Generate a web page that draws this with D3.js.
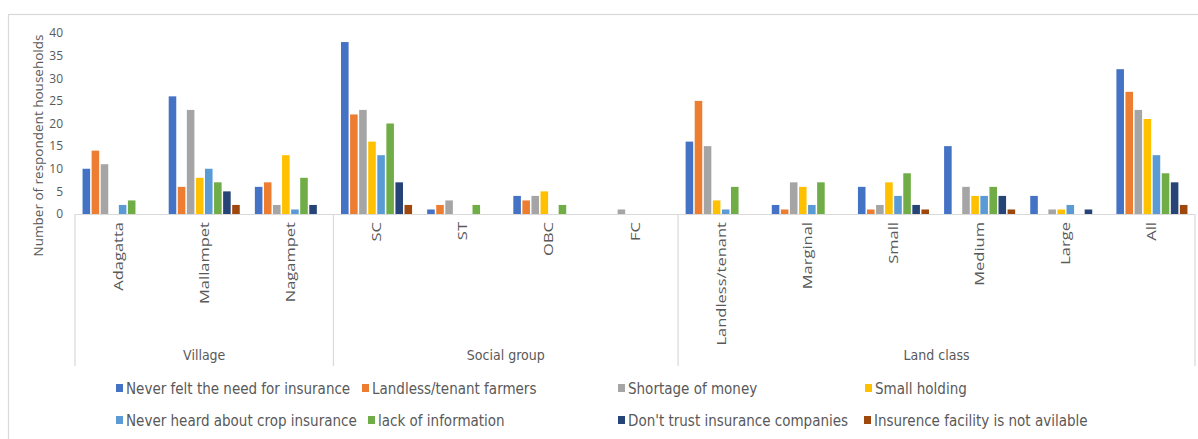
<!DOCTYPE html>
<html>
<head>
<meta charset="utf-8">
<script src="https://cdn.jsdelivr.net/npm/d3@7"></script>
<style>
  html, body { margin: 0; padding: 0; background: #fff; }
  svg { display: block; }
</style>
</head>
<body>
<svg id="chart" width="1198" height="439"></svg>
<script>
// ---- data ----
const categories = ["Adagatta","Mallampet","Nagampet","SC","ST","OBC","FC","Landless/tenant","Marginal","Small","Medium","Large","All"];
const groups = ["Village","Social group","Land class"];
const groupSizes = [3, 4, 6];
const seriesNames = [
  "Never felt the need for insurance",
  "Landless/tenant farmers",
  "Shortage of money",
  "Small holding",
  "Never heard about crop insurance",
  "lack of information",
  "Don't trust insurance companies",
  "Insurence facility is not avilable"
];
const neverFeltNeed   = [10,26, 6,38,1,4,0,16,2,6,15,4,32];
const landlessTenant  = [14, 6, 7,22,2,3,0,25,1,1, 0,0,27];
const shortageMoney   = [11,23, 2,23,3,4,1,15,7,2, 6,1,23];
const smallHolding    = [ 0, 8,13,16,0,5,0, 3,6,7, 4,1,21];
const neverHeard      = [ 2,10, 1,13,0,0,0, 1,2,4, 4,2,13];
const lackInfo        = [ 3, 7, 8,20,2,2,0, 6,7,9, 6,0, 9];
const dontTrust       = [ 0, 5, 2, 7,0,0,0, 0,0,2, 4,1, 7];
const notAvailable    = [ 0, 2, 0, 2,0,0,0, 0,0,1, 1,0, 2];
const seriesValues = [neverFeltNeed, landlessTenant, shortageMoney, smallHolding, neverHeard, lackInfo, dontTrust, notAvailable];
const yTicks = [0,5,10,15,20,25,30,35,40];
const colors = ["#4472C4","#ED7D31","#A5A5A5","#FFC000","#5B9BD5","#70AD47","#264478","#9E480E"];

(function () {
// ---- layout ----
const svg = d3.select("#chart");
const pLeft = 75, pRight = 1195, pTop = 33, base = 214, axisBottom = 366;
const textColor = "#595959";
const lineColor = "#d9d9d9";
const narrow = "'Liberation Sans Narrow','DejaVu Sans Condensed','Open Sans',sans-serif";
const sans = "'Open Sans','Noto Sans',sans-serif";

// outer border
svg.append("rect").attr("x", 8.5).attr("y", 14.5).attr("width", 1200).attr("height", 440)
  .attr("fill", "none").attr("stroke", lineColor).attr("stroke-width", 1.2);

const x0 = d3.scaleBand().domain(categories).range([pLeft, pRight]).paddingInner(0).paddingOuter(0);
const gapRatio = 1.5;
const slot = x0.bandwidth() / (seriesNames.length + gapRatio);
const x1 = d3.scaleBand().domain(d3.range(seriesNames.length))
  .range([slot * gapRatio / 2, x0.bandwidth() - slot * gapRatio / 2]).padding(0);
const y = d3.scaleLinear().domain([0, 40]).range([base, pTop]);

// bars
const gCat = svg.append("g").selectAll("g").data(categories).join("g")
  .attr("transform", d => `translate(${x0(d)},0)`);
gCat.selectAll("rect")
  .data((c, ci) => seriesValues.map((vals, si) => ({ si, v: vals[ci] })).filter(d => d.v > 0))
  .join("rect")
  .attr("x", d => x1(d.si) + 0.75)
  .attr("width", x1.bandwidth() - 1.5)
  .attr("y", d => y(d.v))
  .attr("height", d => base - y(d.v))
  .attr("fill", d => colors[d.si]);

// y axis tick labels
const yAxis = d3.axisLeft(y).tickValues(yTicks).tickSize(0).tickPadding(0);
const yg = svg.append("g").attr("transform", `translate(63,0)`).call(yAxis);
yg.select(".domain").remove();
yg.selectAll("text").attr("fill", textColor).attr("font-size", 12).attr("font-family", sans);

// y title
svg.append("text")
  .attr("transform", `translate(43,${(pTop + base) / 2 + 22}) rotate(-90)`)
  .attr("text-anchor", "middle")
  .attr("fill", textColor).attr("font-size", 13.5).attr("font-family", sans)
  .text("Number of respondent households");

// category axis line
svg.append("line").attr("x1", pLeft).attr("x2", pRight).attr("y1", base + 0.5).attr("y2", base + 0.5)
  .attr("stroke", lineColor).attr("stroke-width", 1.2);

// category labels
const xAxis = d3.axisBottom(x0).tickSize(0).tickPadding(0);
const xg = svg.append("g").attr("transform", `translate(0,${base})`).call(xAxis);
xg.select(".domain").remove();
xg.selectAll("text")
  .attr("transform", "rotate(-90) translate(-8,0) scale(1.27,1)")
  .attr("x", 0).attr("y", 0).attr("dy", "0.35em")
  .attr("text-anchor", "end")
  .attr("fill", textColor).attr("font-size", 13).attr("font-family", sans);

// group separators and labels
let idx = 0;
const bounds = [0];
groupSizes.forEach(s => { idx += s; bounds.push(idx); });
bounds.forEach(b => {
  const xx = b < categories.length ? x0(categories[b]) : pRight;
  svg.append("line").attr("x1", xx).attr("x2", xx).attr("y1", base).attr("y2", axisBottom)
    .attr("stroke", lineColor).attr("stroke-width", 1.2);
});
groups.forEach((g, i) => {
  const a = x0(categories[bounds[i]]);
  const b = bounds[i + 1] < categories.length ? x0(categories[bounds[i + 1]]) : pRight;
  svg.append("text").attr("x", (a + b) / 2).attr("y", 360)
    .attr("text-anchor", "middle").attr("fill", textColor)
    .attr("font-size", 14).attr("font-family", narrow).text(g);
});

// legend
const legendX = [116, 362, 618, 865, 116, 368, 618, 864];
const legendY = [389, 389, 389, 389, 421, 421, 421, 421];
const lg = svg.append("g").selectAll("g").data(seriesNames).join("g")
  .attr("transform", (d, i) => `translate(${legendX[i]},${legendY[i]})`);
lg.append("rect").attr("x", 0).attr("y", -5).attr("width", 7).attr("height", 8)
  .attr("fill", (d, i) => colors[i]);
lg.append("text").attr("x", 10).attr("y", 0).attr("dy", "0.35em")
  .attr("fill", textColor).attr("font-size", 15).attr("font-family", narrow)
  .text(d => d);
})();
</script>
</body>
</html>
